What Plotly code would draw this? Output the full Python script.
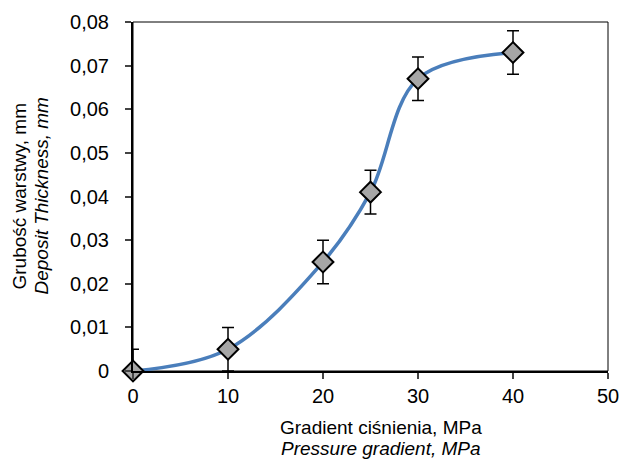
import plotly.graph_objects as go

pressure = [0, 10, 20, 25, 30, 40]
thickness = [0, 0.005, 0.025, 0.041, 0.067, 0.073]
err_plus = [0.005, 0.005, 0.005, 0.005, 0.005, 0.005]
err_minus = [0, 0.005, 0.005, 0.005, 0.005, 0.005]

x_ticks = [0, 10, 20, 30, 40, 50]
y_ticks = [0, 0.01, 0.02, 0.03, 0.04, 0.05, 0.06, 0.07, 0.08]
y_tick_labels = ["0", "0,01", "0,02", "0,03", "0,04", "0,05", "0,06", "0,07", "0,08"]

x_title = ["Gradient ciśnienia, MPa", "<i>Pressure gradient, MPa</i>"]
y_title = ["Grubość warstwy, mm", "<i>Deposit Thickness, mm</i>"]

fig = go.Figure()
fig.add_trace(go.Scatter(
    x=pressure, y=thickness, mode="lines",
    line=dict(color="#4A7EBB", width=3.5, shape="spline", smoothing=1),
    hoverinfo="skip", showlegend=False, cliponaxis=False,
))
fig.add_trace(go.Scatter(
    x=pressure, y=thickness, mode="markers",
    marker=dict(symbol="diamond", size=16, color="#A6A6A6",
                line=dict(color="black", width=2)),
    error_y=dict(type="data", symmetric=False, array=err_plus, arrayminus=err_minus,
                 color="black", thickness=1.5, width=6),
    showlegend=False, cliponaxis=False,
))

font = "Liberation Sans, Arial, sans-serif"
L, T, B = 133, 22, 88
W, H = 624, 459
ph = H - T - B
ann = []
for t, py in zip(x_title, [428, 448]):
    ann.append(dict(text=t, xref="paper", yref="paper", x=(381 - L) / (W - L - 16),
                    y=-(py - (H - B)) / ph,
                    xanchor="center", yanchor="middle", showarrow=False,
                    font=dict(size=19)))
for t, px in zip(y_title, [19, 41]):
    ann.append(dict(text=t, xref="paper", yref="paper", x=0, xshift=px - L, y=0.5,
                    xanchor="center", yanchor="middle", showarrow=False, textangle=-90,
                    font=dict(size=19)))

fig.update_layout(
    width=W, height=H,
    margin=dict(l=L, r=16, t=T, b=B),
    paper_bgcolor="white", plot_bgcolor="white",
    font=dict(family=font, size=19, color="black"),
    xaxis=dict(range=[0, 50], tickvals=x_ticks, ticks="outside", ticklen=6, tickwidth=2,
               showline=True, linewidth=2, linecolor="black", showgrid=False, zeroline=False,
               tickfont=dict(size=20), automargin=False, ticklabelstandoff=0),
    yaxis=dict(range=[0, 0.08], tickvals=y_ticks, ticktext=y_tick_labels, ticks="outside",
               ticklen=6, tickwidth=2, showline=True, linewidth=2, linecolor="black",
               showgrid=False, zeroline=False, tickfont=dict(size=20), automargin=False,
               ticklabelstandoff=12),
    shapes=[dict(type="rect", xref="paper", yref="paper", x0=0, y0=0, x1=1, y1=1,
                 line=dict(color="black", width=1), layer="below")],
    annotations=ann,
)

fig.write_html("out.html", config={"displayModeBar": False},
               post_script="document.body.style.margin='0';document.body.style.overflow='hidden';")
